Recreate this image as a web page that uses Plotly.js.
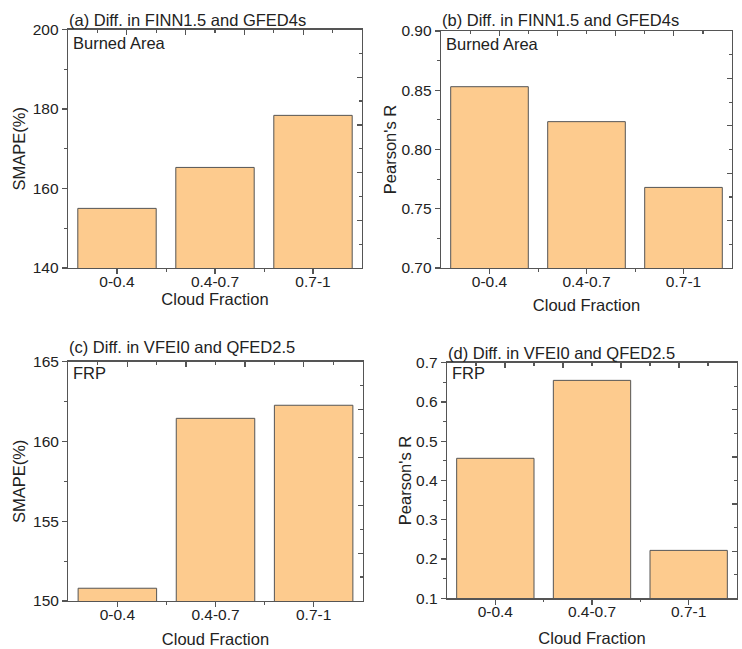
<!DOCTYPE html>
<html>
<head>
<meta charset="utf-8">
<script src="https://cdn.plot.ly/plotly-3.0.1.min.js"></script>
<style>html,body{margin:0;padding:0;background:#fff;}#chart{width:742px;height:649px;}</style>
</head>
<body>
<div id="chart"></div>
<script>
const categories = ['0-0.4', '0.4-0.7', '0.7-1'];
const smapeBurnedArea = [155.0, 165.3, 178.4];
const pearsonBurnedArea = [0.853, 0.8235, 0.768];
const smapeFRP = [150.8, 161.45, 162.27];
const pearsonFRP = [0.4565, 0.655, 0.222];
const panelTitles = ['(a) Diff. in FINN1.5 and GFED4s', '(b) Diff. in FINN1.5 and GFED4s',
                     '(c) Diff. in VFEI0 and QFED2.5', '(d) Diff. in VFEI0 and QFED2.5'];
const innerLabels = ['Burned Area', 'Burned Area', 'FRP', 'FRP'];
const yTitles = ['SMAPE(%)', "Pearson's R", 'SMAPE(%)', "Pearson's R"];
const xTitle = 'Cloud Fraction';

const W = 742, H = 649;
const panels = [
  {vals: smapeBurnedArea, box: [68, 362, 29.5, 268], range: [140, 200], dtick: 20, minor: 10, fmt: 'd', ystand: 3, xstand: 3, titleY: 20, innerY: 43},
  {vals: pearsonBurnedArea, box: [441, 732, 31, 268], range: [0.70, 0.90], dtick: 0.05, minor: 0.025, fmt: '.2f', ystand: 0, xstand: 10, titleY: 20, innerY: 43.5},
  {vals: smapeFRP, box: [68.3, 362.7, 361.7, 601], range: [150, 165], dtick: 5, minor: 2.5, fmt: 'd', ystand: 3, xstand: 11, titleY: 347, innerY: 373},
  {vals: pearsonFRP, box: [447, 737, 362.7, 598.3], range: [0.1, 0.7], dtick: 0.1, minor: 0.05, fmt: '.1f', ystand: 0, xstand: 13, titleY: 353, innerY: 373}
];

const axisColor = '#555555';
const textColor = '#222222';
const fontFam = 'Liberation Sans, Arial, sans-serif';
const data = [];
const layout = {
  width: W, height: H,
  margin: {l: 0, r: 0, t: 0, b: 0},
  paper_bgcolor: '#ffffff', plot_bgcolor: '#ffffff',
  showlegend: false,
  font: {family: fontFam, color: textColor, size: 15.5},
  annotations: []
};

panels.forEach((p, k) => {
  const i = k + 1;
  const xid = i === 1 ? 'x' : 'x' + i;
  const yid = i === 1 ? 'y' : 'y' + i;
  const xTop = 'x' + (i + 4), xMin = 'x' + (i + 8), yRight = 'y' + (i + 4);
  const [x0, x1, y0, y1] = p.box;
  const xd = [x0 / W, x1 / W];
  const yd = [1 - y1 / H, 1 - y0 / H];

  data.push({
    type: 'bar', x: categories, y: p.vals, xaxis: xid, yaxis: yid,
    width: 0.8,
    marker: {color: '#FDCB8E', line: {color: '#555555', width: 1}},
    hoverinfo: 'x+y'
  });
  // empty traces so the frame-only axes (top, right, boundary ticks) are drawn
  data.push({type: 'scatter', mode: 'markers', x: [], y: [], xaxis: xTop, yaxis: yRight, hoverinfo: 'skip'});
  data.push({type: 'scatter', mode: 'markers', x: [], y: [], xaxis: xMin, yaxis: yid, hoverinfo: 'skip'});

  layout['xaxis' + (i === 1 ? '' : i)] = {
    domain: xd, anchor: yid, type: 'category', range: [-0.5, 2.5],
    showline: true, linecolor: axisColor, linewidth: 1.3,
    ticks: 'outside', ticklen: 5, tickcolor: axisColor, tickwidth: 1.2,
    ticklabelstandoff: -6,
    showgrid: false, zeroline: false,
    tickfont: {size: 15.5, color: textColor},
    title: {text: xTitle, font: {size: 16.5, color: textColor}, standoff: p.xstand}
  };
  layout['yaxis' + (i === 1 ? '' : i)] = {
    domain: yd, anchor: xid, range: p.range, dtick: p.dtick, tick0: p.range[0],
    tickformat: p.fmt,
    showline: true, linecolor: axisColor, linewidth: 1.3,
    ticks: 'outside', ticklen: 5, tickcolor: axisColor, tickwidth: 1.2,
    minor: {dtick: p.minor, ticks: 'outside', ticklen: 3, tickcolor: axisColor},
    showgrid: false, zeroline: false,
    tickfont: {size: 15.5, color: textColor},
    title: {text: yTitles[k], font: {size: 16.5, color: textColor}, standoff: p.ystand}
  };
  layout['xaxis' + (i + 4)] = {
    overlaying: xid, anchor: yRight, side: 'top', range: [0, 10], dtick: 2, tick0: 0,
    showline: true, linecolor: axisColor, linewidth: 1.3,
    ticks: 'inside', ticklen: 5, tickcolor: axisColor, tickwidth: 1.2,
    minor: {dtick: 1, ticks: 'inside', ticklen: 3, tickcolor: axisColor},
    showticklabels: false, showgrid: false, zeroline: false, fixedrange: true
  };
  layout['xaxis' + (i + 8)] = {
    overlaying: xid, anchor: yid, side: 'bottom', range: [-0.5, 2.5],
    tickvals: [0.5, 1.5], ticks: 'outside', ticklen: 3, tickcolor: axisColor,
    showline: false, showticklabels: false, showgrid: false, zeroline: false, fixedrange: true
  };
  layout['yaxis' + (i + 4)] = {
    overlaying: yid, anchor: xTop, side: 'right', range: [0, 10], dtick: 2, tick0: 0,
    showline: true, linecolor: axisColor, linewidth: 1.3,
    ticks: 'inside', ticklen: 5, tickcolor: axisColor, tickwidth: 1.2,
    minor: {dtick: 1, ticks: 'inside', ticklen: 3, tickcolor: axisColor},
    showticklabels: false, showgrid: false, zeroline: false, fixedrange: true
  };

  layout.annotations.push({
    xref: 'paper', yref: 'paper', x: (x0 - 1) / W, y: 1 - p.titleY / H,
    xanchor: 'left', yanchor: 'middle', showarrow: false,
    text: panelTitles[k], font: {size: 16.5, color: textColor}
  });
  layout.annotations.push({
    xref: 'paper', yref: 'paper', x: (x0 + 3) / W, y: 1 - p.innerY / H,
    xanchor: 'left', yanchor: 'middle', showarrow: false,
    text: innerLabels[k], font: {size: 16.5, color: textColor}
  });
});

Plotly.newPlot('chart', data, layout, {staticPlot: true, displayModeBar: false});
</script>
</body>
</html>
